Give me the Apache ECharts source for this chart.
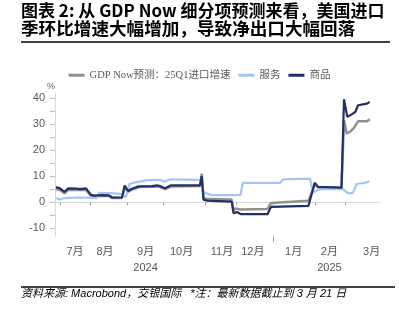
<!DOCTYPE html>
<html><head><meta charset="utf-8">
<script src="https://cdn.jsdelivr.net/npm/echarts@6/dist/echarts.min.js"></script>
<style>html,body{margin:0;padding:0;background:#fff}#c{width:399px;height:322px}</style>
</head><body><div id="c"></div>
<script>
// x = observation position on the (irregular) source axis
var goodsX = [0.5,2.5,4.75,6.5,11,12.5,15.5,18,20,23.5,27,28.5,33.5,34.85,36.5,38.5,41.85,48.5,51,52.5,55,58,72.5,73.35,74.25,76,88.35,89.25,91,93,106.25,108,126.75,129.85,131.5,143.25,144.5,146.15,148.15,150.15,151.5,156,157.35];
var goodsY = [5.8,5.3,4.0,5.3,5.2,5.0,5.3,2.8,2.5,2.7,2.6,1.8,1.8,6.4,4.3,5.2,6.1,6.2,6.5,6.2,5.4,6.5,6.5,10,1.0,0.6,0.2,-4.2,-3.8,-4.6,-4.6,-1.8,-1.4,7.5,5.9,5.6,39.6,32.8,33.7,34.7,37.3,37.9,38.6];
var totalX = [0.5,2.5,4.75,6.5,15.5,18,27,28.5,33.5,34.85,36.5,38.5,42,51,52.5,55,58,72.5,73.35,74.25,76,88.35,89.25,90.5,92.5,106.25,108,126.75,130,131.5,143.25,144.5,145.85,147.85,149.5,151.5,156,157.35];
var totalY = [5.1,4.7,3.4,4.7,4.7,2.4,2.4,1.6,1.6,6.0,4.0,4.9,5.8,6.0,5.8,5.0,6.0,6.2,11,1.6,1.2,1.0,-3.0,-2.4,-2.8,-2.6,-0.3,0.6,7.0,5.7,5.5,31.5,26.4,27.3,28.6,31.1,31.1,31.9];
var svcX = [0.5,2.5,5,12.5,20.75,22,27.5,33,35.5,37.25,39.5,43,46.5,52.5,54.5,58,72.5,74.5,77,78.5,92.75,93.85,112.5,114,127.5,129,131,133.5,144,146.5,149,150.75,155.5,157.15];
var svcY = [1.5,1.1,1.6,1.8,1.6,3.6,3.5,3.2,2.0,7.0,7.5,8.0,8.5,8.6,7.9,8.8,8.6,3.7,3.1,2.7,2.7,7.4,7.4,8.8,9.1,3.7,4.6,5.0,5.0,3.4,3.6,7.0,7.5,8.1];
var seriesNames = ['GDP Now预测：25Q1进口增速','服务','商品'];
var monthStarts = [2.85,17.85,36.15,54.35,75.35,90.85,109,130,145.35];
var yearStart = [109];
var monthLabelPos = [10,25,45.3,63.3,83.5,98.9,119.3,137.2,158.3];
var monthLabels = ['7月','8月','9月\n2024','10月','11月','12月','1月','2月\n2025','3月'];
var yTicks = [-10,-5,0,5,10,15,20,25,30,35,40];
var yLabels = [-10,0,10,20,30,40];

function pairs(xs, ys){ return xs.map(function(x,i){ return [x, ys[i]]; }); }

var chart = echarts.init(document.getElementById('c'), null, {renderer:'canvas'});
var lab = '#595959';
chart.setOption({
  animation:false,
  backgroundColor:'#fff',
  graphic:[
    {type:'text', left:21, top:2, style:{text:'图表 2: 从 GDP Now 细分项预测来看，美国进口', font:'bold 17px "Noto Sans CJK SC", sans-serif', fill:'#000'}},
    {type:'text', left:21, top:20, style:{text:'季环比增速大幅增加，导致净出口大幅回落', font:'bold 17.6px "Noto Sans CJK SC", sans-serif', fill:'#000'}},
    {type:'line', shape:{x1:21,y1:42,x2:390,y2:42}, style:{stroke:'#000', lineWidth:1.6}},
    {type:'line', shape:{x1:21,y1:287,x2:395,y2:287}, style:{stroke:'#000', lineWidth:1.3}},
    {type:'text', left:21, top:288, style:{text:'资料来源: Macrobond，交银国际   *注：最新数据截止到 3 月 21 日', font:'italic 11px "Liberation Sans", "Noto Sans CJK SC", sans-serif', fill:'#000'}}
  ],
  legend:{
    top:65, left:'center', itemWidth:16, itemHeight:3, itemGap:8, icon:'rect',
    textStyle:{color:lab, fontSize:10.5, fontFamily:'"Liberation Serif", "Noto Sans CJK SC", serif'},
    data:seriesNames
  },
  grid:{left:55, right:20, top:93, bottom:86},
  xAxis:[{
    type:'value', min:0, max:162,
    axisLine:{show:true, lineStyle:{color:'#d9d9d9', width:1}},
    axisTick:{show:true, customValues:monthStarts, length:3, lineStyle:{color:'#a6a6a6'}},
    axisLabel:{show:true, customValues:monthLabelPos, margin:8, color:lab, fontSize:11, lineHeight:16,
      fontFamily:'"Liberation Sans", "Noto Sans CJK SC", sans-serif',
      formatter:function(v){ var i = monthLabelPos.indexOf(v); return i>=0 ? monthLabels[i] : ''; }},
    splitLine:{show:false}
  },{
    type:'value', min:0, max:162, position:'bottom',
    axisLine:{show:false},
    axisTick:{show:true, customValues:yearStart, length:6, lineStyle:{color:'#a6a6a6'}},
    axisLabel:{show:false}, splitLine:{show:false}
  }],
  yAxis:{
    type:'value', min:-13, max:42, name:'%', nameGap:2,
    nameTextStyle:{color:lab, fontSize:9, align:'right', padding:[0,0,0,0]},
    axisLine:{show:true, lineStyle:{color:'#d9d9d9'}},
    axisTick:{show:true, customValues:yTicks, length:5, lineStyle:{color:'#bfbfbf'}},
    axisLabel:{customValues:yLabels, color:lab, fontSize:11, margin:10, fontFamily:'"Liberation Sans", sans-serif'},
    splitLine:{show:false}
  },
  series:[
    {name:seriesNames[0], type:'line', data:pairs(totalX,totalY), showSymbol:false, symbol:'none', lineStyle:{width:2.5, color:'#919191'}, itemStyle:{color:'#919191'}},
    {name:seriesNames[1], type:'line', data:pairs(svcX,svcY), showSymbol:false, symbol:'none', lineStyle:{width:2.2, color:'#a4c6f5'}, itemStyle:{color:'#a4c6f5'}},
    {name:seriesNames[2], type:'line', data:pairs(goodsX,goodsY), showSymbol:false, symbol:'none', lineStyle:{width:2.2, color:'#222f68'}, itemStyle:{color:'#222f68'}}
  ]
});
</script></body></html>
